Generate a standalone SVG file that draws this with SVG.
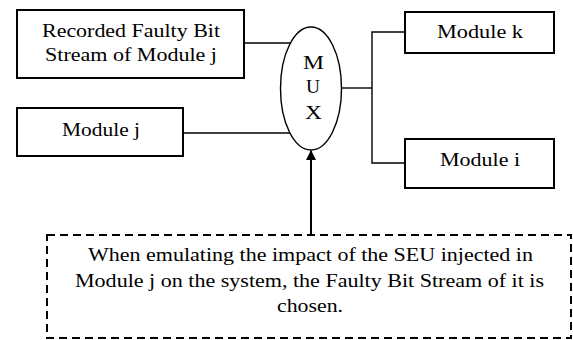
<svg xmlns="http://www.w3.org/2000/svg" width="573" height="340" viewBox="0 0 573 340">
<style>
.box{fill:#fff;stroke:#000;stroke-width:2}
.note{fill:none;stroke:#000;stroke-width:2;stroke-dasharray:8 5}
.ln{fill:none;stroke:#000;stroke-width:1.4}
.t{font-family:'Liberation Serif','DejaVu Serif',serif;font-size:18.5px;fill:#000}
</style>
<defs>
<marker id="arr" markerWidth="10" markerHeight="10" refX="9" refY="5" orient="auto" markerUnits="userSpaceOnUse" viewBox="0 0 10 10">
<path d="M0,0 L10,5 L0,10 z" fill="#000"/>
</marker>
</defs>
<rect width="573" height="340" fill="#fff"/>
<g id="connectors">
<line class="ln" x1="244" y1="43" x2="291" y2="43"/>
<line class="ln" x1="183" y1="133" x2="290" y2="133"/>
<polyline class="ln" points="341.5,88 372,88"/>
<polyline class="ln" points="405,32 372,32 372,163 405,163"/>
<line x1="311" y1="235" x2="311" y2="151" stroke="#000" stroke-width="2" marker-end="url(#arr)"/>
</g>
<g id="recorded">
<rect class="box" x="17" y="10" width="227" height="68"/>
<text class="t" x="42" y="37" textLength="178" lengthAdjust="spacingAndGlyphs">Recorded Faulty Bit</text>
<text class="t" x="45" y="61" textLength="172" lengthAdjust="spacingAndGlyphs">Stream of Module j</text>
</g>
<g id="modj">
<rect class="box" x="17" y="108" width="166" height="48"/>
<text class="t" x="62" y="136" textLength="78" lengthAdjust="spacingAndGlyphs">Module j</text>
</g>
<g id="mux">
<ellipse class="ln" cx="311" cy="88.5" rx="30.5" ry="61.5" fill="#fff"/>
<text class="t" x="303" y="69" textLength="21" lengthAdjust="spacingAndGlyphs">M</text>
<text class="t" x="306" y="93" textLength="14" lengthAdjust="spacingAndGlyphs">U</text>
<text class="t" x="305" y="119" textLength="17" lengthAdjust="spacingAndGlyphs">X</text>
</g>
<g id="modk">
<rect class="box" x="405" y="12" width="149" height="41"/>
<text class="t" x="437" y="38" textLength="86" lengthAdjust="spacingAndGlyphs">Module k</text>
</g>
<g id="modi">
<rect class="box" x="405" y="139" width="149" height="49"/>
<text class="t" x="440" y="166" textLength="80" lengthAdjust="spacingAndGlyphs">Module i</text>
</g>
<g id="note">
<rect class="note" x="47" y="235" width="524" height="103"/>
<text class="t" x="88" y="261" textLength="445" lengthAdjust="spacingAndGlyphs">When emulating the impact of the SEU injected in</text>
<text class="t" x="75" y="287" textLength="469" lengthAdjust="spacingAndGlyphs">Module j on the system, the Faulty Bit Stream of it is</text>
<text class="t" x="277" y="312" textLength="66" lengthAdjust="spacingAndGlyphs">chosen.</text>
</g>
</svg>
